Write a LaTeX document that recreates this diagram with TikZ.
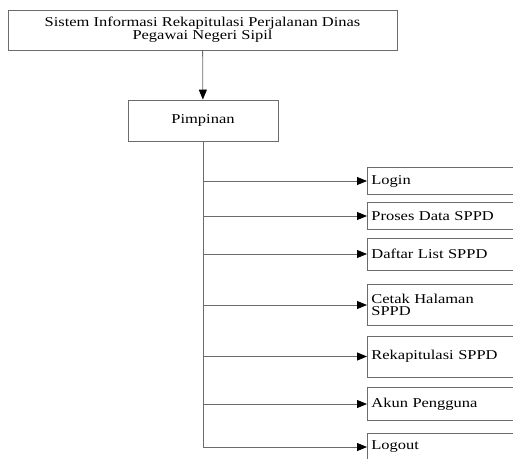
\documentclass[tikz,border=0pt]{standalone}
\usepackage{fontspec}
\setmainfont{Liberation Serif}[FakeStretch=1.22]
\usetikzlibrary{arrows.meta}
\definecolor{garis}{rgb}{0.42,0.42,0.42}

\begin{document}
\begin{tikzpicture}[x=1pt, y=-1pt,
    font=\fontsize{13.5}{12}\selectfont,
    kotak/.style={draw=garis, line width=0.8pt},
    menu/.style={kotak, anchor=west, align=left, text width=170pt, inner sep=4pt},
    panah/.style={draw=garis, line width=0.8pt, -{Triangle[length=10pt, width=8pt, fill=black, color=black]}}]
            \useasboundingbox (0,0) rectangle (513,458);
            \clip (0,0) rectangle (513,458);

            \node[kotak, minimum width=389pt, minimum height=40pt, align=center] (sistem) at (202.5,30)
                {Sistem Informasi Rekapitulasi Perjalanan Dinas\\Pegawai Negeri Sipil};
            \node[kotak, minimum width=150pt, minimum height=41pt] (pimpinan) at (203,120.5) {Pimpinan};

            \node[menu, minimum height=27pt] (login) at (367,181) {Login};
            \node[menu, minimum height=27pt] (proses) at (367,216) {Proses Data SPPD};
            \node[menu, minimum height=32pt] (daftar) at (367,254) {Daftar List SPPD};
            \node[menu, minimum height=41pt] (cetak) at (367,305) {Cetak Halaman\\SPPD};
            \node[menu, minimum height=41pt] (rekap) at (367,356.5) {Rekapitulasi SPPD};
            \node[menu, minimum height=33pt] (akun) at (367,404) {Akun Pengguna};
            \node[menu, minimum height=28pt] (logout) at (367,447) {Logout};

            \draw[panah] (sistem) -- (pimpinan);
            \draw[garis, line width=0.8pt] (pimpinan.south) -- (pimpinan.south |- logout.west);
            \foreach \m in {login,proses,daftar,cetak,rekap,akun,logout}
                \draw[panah] (pimpinan.south |- \m.west) -- (\m.west);
        \end{tikzpicture}
\end{document}
